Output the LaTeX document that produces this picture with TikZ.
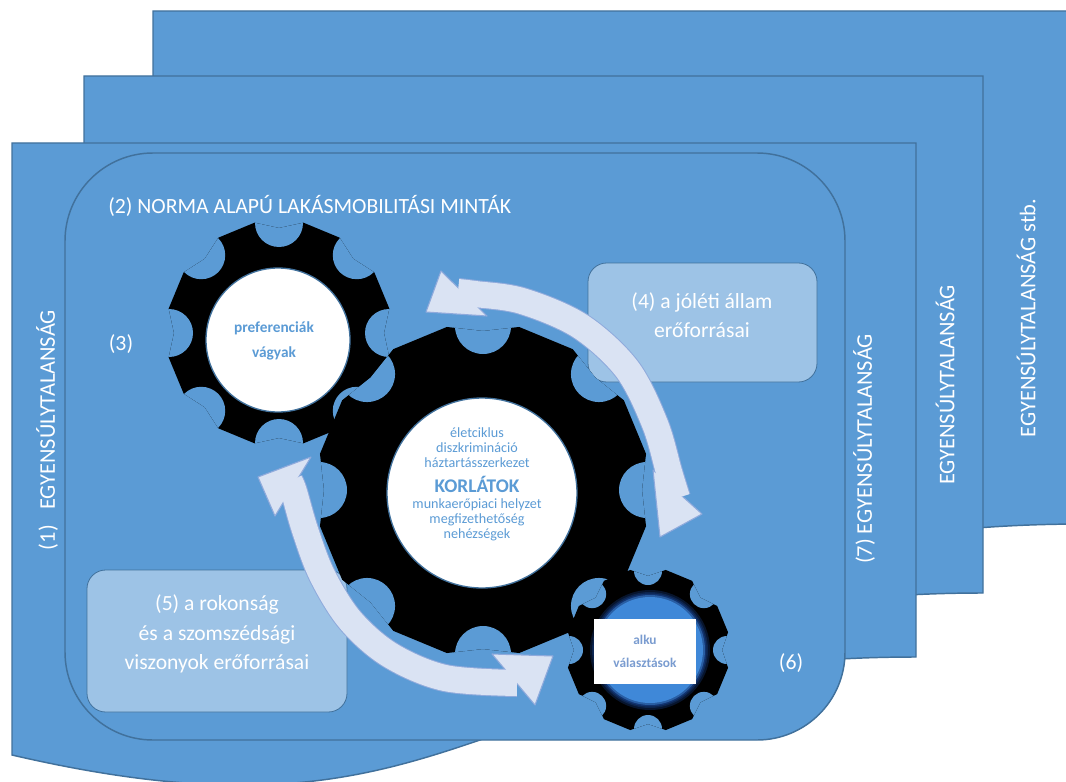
\documentclass[tikz,border=0pt]{standalone}
\usepackage{fontspec}
\setmainfont{Carlito}
\usetikzlibrary{calc}
\definecolor{panelblue}{HTML}{5B9BD5}
\definecolor{edgeblue}{HTML}{41719C}
\definecolor{boxblue}{HTML}{9DC3E6}
\definecolor{arrowfill}{HTML}{DAE3F3}
\definecolor{arrowedge}{HTML}{8FAADC}
\definecolor{alkutext}{HTML}{7A9CD0}
\definecolor{glowB}{HTML}{12336E}
\definecolor{glowC}{HTML}{3F88D8}

% #1 name, #2 cx, #3 cy, #4 outer radius, #5 notch radius, #6 angle offset
\newcommand{\drawgear}[6]{%
  \coordinate (#1) at (#2,#3);
  \begin{scope}[shift={(#2,#3)}]
    \fill[black] (#6+12.5:#4) \foreach \k in {0,...,7}{
        -- (#6+\k*45+12.5:#4) -- (#6+\k*45+32.5:#4) -- (#6+\k*45+45:#4-8)} -- cycle;
    \begin{scope}
      \clip (#6+12.5:#4) \foreach \k in {0,...,7}{
        -- (#6+\k*45+12.5:#4) -- (#6+\k*45+32.5:#4) -- (#6+\k*45+45:#4-8)} -- cycle;
      \foreach \a in {0,45,...,315}{
        \fill[panelblue] (\a+#6:#4-3) circle[radius=#5];
      }
    \end{scope}
  \end{scope}
}

\begin{document}
\begin{tikzpicture}[x=0.75pt,y=-0.75pt,
  panelshape/.style={fill=panelblue, draw=edgeblue, line width=1.1pt},
  resbox/.style={fill=boxblue, draw=edgeblue, line width=0.6pt, rounded corners=14pt},
  whitelabel/.style={text=white, font=\fontsize{16.3}{19}\selectfont, inner sep=0pt},
  sidelabel/.style={text=white, font=\fontsize{16.8}{19}\selectfont, rotate=90, inner sep=0pt},
  boxtext/.style={text=white, font=\fontsize{16.2}{22}\selectfont, align=center, inner sep=0pt},
  gearword/.style={text=panelblue, font=\fontsize{11.5}{13}\selectfont\bfseries, inner sep=0pt},
  smallword/.style={text=panelblue, font=\fontsize{10.6}{12}\selectfont, inner sep=0pt},
  bigword/.style={text=panelblue, font=\fontsize{14.5}{17}\selectfont\bfseries, inner sep=0pt},
  alkuword/.style={text=alkutext, font=\fontsize{10}{12}\selectfont\bfseries, inner sep=0pt},
  arrowcasing/.style={draw=arrowedge, line width=21pt},
  arrowbody/.style={draw=arrowfill, line width=19.5pt},
  headshape/.style={fill=arrowfill, draw=arrowedge, line width=0.8pt, line join=round}
]
\useasboundingbox (0,0) rectangle (1066,781);
\clip (0,0) rectangle (1066,781);

% stacked document panels
\path[panelshape] (153,11) -- (1085,11) -- (1085,524) .. controls (619,524) and (619,727) .. (153,622) -- cycle;
\path[panelshape] (84,76) -- (983,76) -- (983,593) .. controls (533,593) and (533,796) .. (84,691) -- cycle;
\path[panelshape] (12,143) -- (916,143) -- (916,657) .. controls (464,657) and (464,860) .. (12,755) -- cycle;

% inner rounded frame
\draw[panelshape, rounded corners=66pt] (65,153) rectangle (845,740);

% labels
\node[whitelabel, anchor=west] (norma) at (108,206) {(2) NORMA ALAPÚ LAKÁSMOBILITÁSI MINTÁK};
\node[whitelabel] (l3) at (121,344) {(3)};
\node[whitelabel] (l6) at (791,663) {(6)};
\node[sidelabel] (l1) at (47,430) {(1)\hspace{0.45em} EGYENSÚLYTALANSÁG};
\node[sidelabel] (l7) at (864,449) {(7) EGYENSÚLYTALANSÁG};
\node[sidelabel] (l8) at (945,385) {EGYENSÚLYTALANSÁG};
\node[sidelabel] (l9) at (1026,318) {EGYENSÚLYTALANSÁG stb.};

% resource boxes
\draw[resbox] (588,263) rectangle (817,382);
\node[boxtext] (t4) at (702,315) {(4) a jóléti állam\\erőforrásai};
\draw[resbox] (87,570) rectangle (347,712);
\node[boxtext] (t5) at (217,634) {(5) a rokonság\\és a szomszédsági\\viszonyok erőforrásai};

% gear 1
\drawgear{g1}{279}{333}{113}{24}{0}
\fill[white, draw=edgeblue, line width=1pt] (278,340) circle[radius=72];
\node[gearword] (pref) at (274,328) {preferenciák};
\node[gearword] (vagy) at (274,353) {vágyak};

% gear 2
\drawgear{g2}{483}{490}{167}{28}{0}
\fill[white, draw=edgeblue, line width=1pt] (482,493) circle[radius=95];
\node[smallword] (k1) at (477,433) {életciklus};
\node[smallword] (k2) at (477,448) {diszkrimináció};
\node[smallword] (k3) at (477,463) {háztartásszerkezet};
\node[bigword] (k4) at (477,484) {KORLÁTOK};
\node[smallword] (k5) at (477,505) {munkaerőpiaci helyzet};
\node[smallword] (k6) at (477,520) {megfizethetőség};
\node[smallword] (k7) at (477,535) {nehézségek};

% gear 3 with glowing centre
\drawgear{g3}{648}{650}{82}{14}{0}
\fill[black!60!glowB] (650,650) circle[radius=60];
\fill[black!30!glowB] (650,650) circle[radius=58];
\fill[glowB] (650,650) circle[radius=56.5];
\fill[glowB!50!glowC] (650,650) circle[radius=55];
\fill[glowC] (650,650) circle[radius=53];
\fill[white] (594,619) rectangle (696,684);
\node[alkuword] (alku) at (645,640) {alku};
\node[alkuword] (valas) at (645,663) {választások};

% arrow 1 (upper right)
\draw[arrowcasing] plot[smooth, tension=0.55] coordinates {(458,292) (475,294) (522,301) (580,326) (627,369) (655,424) (669,472) (677,498)};
\filldraw[headshape] (441,271) -- (426,312) -- (487,316) -- cycle;
\filldraw[headshape] (653,470) -- (702,514) -- (660,537) -- cycle;
\draw[arrowbody] plot[smooth, tension=0.55] coordinates {(458,292) (475,294) (522,301) (580,326) (627,369) (655,424) (669,472) (677,498)};

% arrow 2 (lower left)
\draw[arrowcasing] plot[smooth, tension=0.55] coordinates {(290,482) (294,492) (305,530) (322,575) (350,620) (390,655) (445,678) (517,683)};
\filldraw[headshape] (275,516) -- (258,477) -- (311,457) -- cycle;
\filldraw[headshape] (492,654) -- (553,656) -- (535,705) -- cycle;
\draw[arrowbody] plot[smooth, tension=0.55] coordinates {(290,482) (294,492) (305,530) (322,575) (350,620) (390,655) (445,678) (517,683)};
\end{tikzpicture}
\end{document}
